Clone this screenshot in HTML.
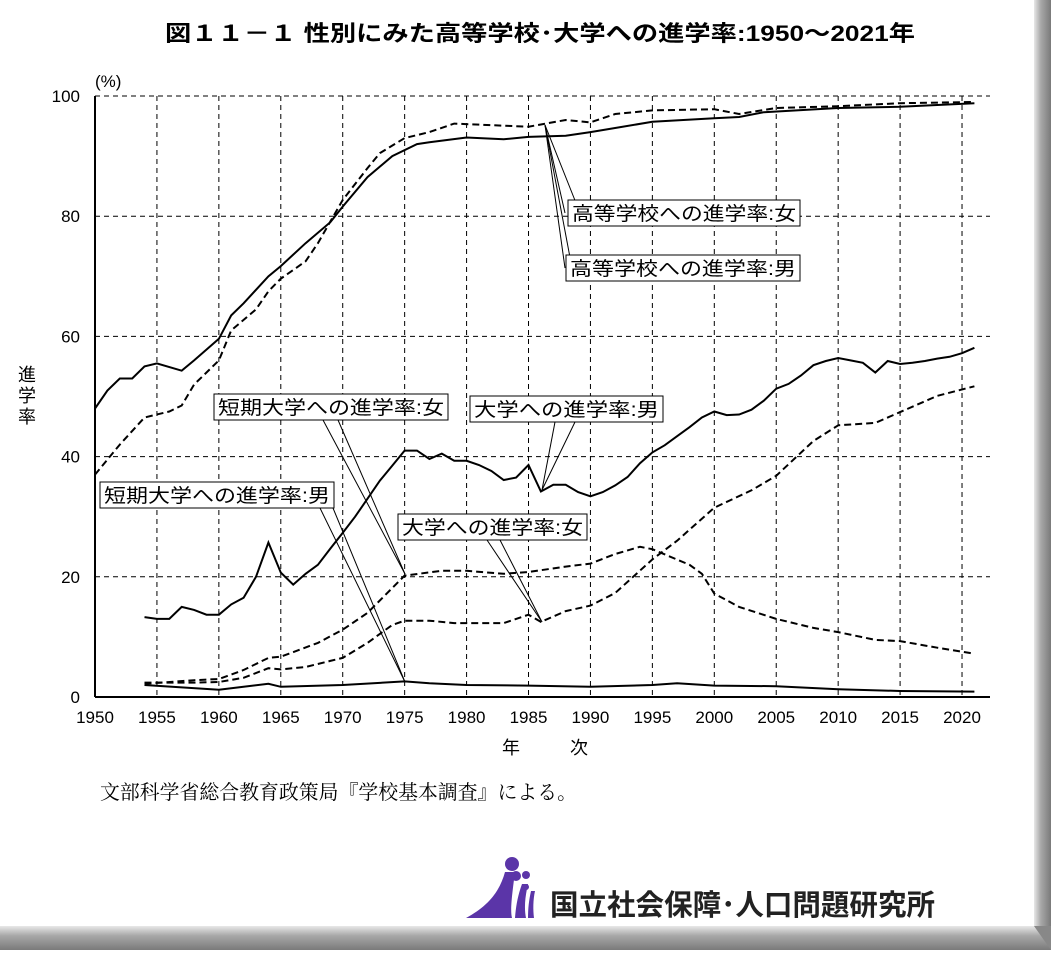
<!DOCTYPE html>
<html><head><meta charset="utf-8">
<style>
body{margin:0;width:1051px;height:950px;overflow:hidden;background:#fff;font-family:"Liberation Sans","Noto Sans CJK JP",sans-serif;}
</style></head><body>
<svg id="s" width="1051" height="950" xmlns="http://www.w3.org/2000/svg" font-family="Liberation Sans, Noto Sans CJK JP, sans-serif">
<defs>
<linearGradient id="gr" x1="0" x2="1" y1="0" y2="0"><stop offset="0" stop-color="#e8e8e8"/><stop offset="0.4" stop-color="#a8a8a8"/><stop offset="1" stop-color="#7a7a7a"/></linearGradient>
<linearGradient id="gb" x1="0" x2="0" y1="0" y2="1"><stop offset="0" stop-color="#e8e8e8"/><stop offset="0.4" stop-color="#a8a8a8"/><stop offset="1" stop-color="#7a7a7a"/></linearGradient>
</defs>
<rect x="1034" y="0" width="17" height="950" fill="url(#gr)"/>
<rect x="0" y="926" width="1051" height="24" fill="url(#gb)"/>
<polygon points="1034,926 1051,926 1051,950" fill="#888"/>
<text x="540" y="41" text-anchor="middle" font-size="22" font-weight="bold" textLength="750" lengthAdjust="spacingAndGlyphs">図１１－１ 性別にみた高等学校･大学への進学率:1950～2021年</text>
<text x="95" y="87" font-size="17">(%)</text>
<g id="grid" stroke="#000" stroke-dasharray="5,4" stroke-width="1" fill="none"></g>
<g id="ticks" font-size="17" text-anchor="end"></g>
<g id="series" fill="none" stroke="#000" stroke-width="2"></g>
<line x1="95" y1="96" x2="95" y2="697" stroke="#000" stroke-width="2"/>
<line x1="95" y1="697" x2="990" y2="697" stroke="#000" stroke-width="2"/>
<text x="27" y="381" font-size="18" text-anchor="middle">進</text>
<text x="27" y="402" font-size="18" text-anchor="middle">学</text>
<text x="27" y="423" font-size="18" text-anchor="middle">率</text>
<text x="502" y="754" font-size="18">年</text>
<text x="570" y="754" font-size="18">次</text>
<text x="100" y="799" font-size="20" font-family="Liberation Serif, Noto Serif CJK SC, serif" textLength="477" lengthAdjust="spacingAndGlyphs">文部科学省総合教育政策局『学校基本調査』による。</text>
<g id="call" font-size="19"></g>
<g fill="#5b35a8">
<circle cx="512" cy="864" r="7"/><circle cx="516" cy="876" r="5"/><circle cx="526" cy="875" r="4"/><circle cx="526" cy="887" r="3"/>
<path d="M466,918 C490,905 500,890 505,872 L515,872 C512,895 510,910 512,918 Z"/>
<path d="M515,918 C516,905 518,895 522,884 L528,884 C525,897 524,908 526,918 Z"/>
<path d="M528,918 C528,908 529,900 531,891 L535,891 C533,900 533,910 534,918 Z"/>
</g>
<text x="550" y="915" font-size="29" font-weight="bold" fill="#222" textLength="385" lengthAdjust="spacingAndGlyphs">国立社会保障･人口問題研究所</text>
</svg>
<script>
const NS="http://www.w3.org/2000/svg";
const X=y=>95+(y-1950)*12.386, Y=v=>697-v*6.01;
function el(p,t,a,txt){const e=document.createElementNS(NS,t);for(const k in a)e.setAttribute(k,a[k]);if(txt)e.textContent=txt;document.getElementById(p).appendChild(e);return e;}
for(let v=20;v<=100;v+=20)el('grid','line',{x1:95,x2:990,y1:Y(v),y2:Y(v)});
for(let y=1955;y<=2020;y+=5)el('grid','line',{x1:X(y),x2:X(y),y1:96,y2:697});
for(let v=0;v<=100;v+=20)el('ticks','text',{x:80,y:Y(v)+6},String(v));
for(let y=1950;y<=2020;y+=5)el('ticks','text',{x:X(y),y:723,'text-anchor':'middle'},String(y));
function ser(pts,dash){let d=pts.map((p,i)=>(i?'L':'M')+X(p[0]).toFixed(1)+','+Y(p[1]).toFixed(1)).join(' ');el('series','path',{d:d,'stroke-dasharray':dash?'7,4':'none'});}
ser([[1950,37],[1952,42],[1954,46.5],[1956,47.5],[1957,48.5],[1958,52],[1959,54],[1960,56],[1961,61],[1963,64.5],[1964,67.5],[1965,69.6],[1967,72.5],[1968,75.5],[1970,82.7],[1972,88],[1973,90.5],[1975,93],[1977,94],[1979,95.4],[1985,94.9],[1988,96],[1990,95.6],[1992,97],[1995,97.6],[2000,97.8],[2002,97],[2005,98],[2010,98.3],[2015,98.8],[2021,99]],true);
ser([[1950,48],[1951,51],[1952,53],[1953,53],[1954,55],[1955,55.5],[1957,54.3],[1958,56],[1960,59.6],[1961,63.5],[1962,65.5],[1964,70],[1965,71.7],[1967,75.5],[1969,79],[1970,81.6],[1972,86.5],[1974,90],[1976,92],[1977,92.3],[1980,93.1],[1983,92.8],[1985,93.2],[1988,93.4],[1990,94],[1995,95.7],[2000,96.3],[2002,96.5],[2004,97.3],[2010,98],[2015,98.2],[2021,98.8]],false);
ser([[1954,13.3],[1955,13],[1956,13],[1957,15],[1958,14.5],[1959,13.7],[1960,13.7],[1961,15.4],[1962,16.5],[1963,20],[1964,25.7],[1965,20.7],[1966,18.7],[1967,20.5],[1968,22],[1969,24.7],[1970,27.3],[1971,30],[1972,33],[1973,36],[1974,38.5],[1975,41],[1976,41],[1977,39.6],[1978,40.5],[1979,39.3],[1980,39.3],[1981,38.6],[1982,37.6],[1983,36.1],[1984,36.5],[1985,38.6],[1986,34.2],[1987,35.3],[1988,35.3],[1989,34.1],[1990,33.4],[1991,34.1],[1992,35.2],[1993,36.6],[1994,38.9],[1995,40.7],[1996,41.9],[1997,43.4],[1998,44.9],[1999,46.5],[2000,47.5],[2001,46.9],[2002,47],[2003,47.8],[2004,49.3],[2005,51.3],[2006,52.1],[2007,53.5],[2008,55.2],[2009,55.9],[2010,56.4],[2011,56],[2012,55.6],[2013,54],[2014,55.9],[2015,55.4],[2016,55.6],[2017,55.9],[2018,56.3],[2019,56.6],[2020,57.2],[2021,58.1]],false);
ser([[1954,2.4],[1958,2.4],[1960,2.5],[1962,3.2],[1964,4.8],[1965,4.6],[1967,5],[1969,6],[1970,6.5],[1972,9],[1974,12],[1975,12.7],[1977,12.7],[1979,12.3],[1983,12.3],[1985,13.7],[1986,12.5],[1988,14.3],[1990,15.2],[1992,17.3],[1995,22.9],[1997,26],[2000,31.5],[2003,34.4],[2005,36.8],[2008,42.6],[2010,45.2],[2013,45.6],[2015,47.4],[2018,50.1],[2021,51.7]],true);
ser([[1954,2.2],[1958,2.8],[1960,3.0],[1962,4.5],[1964,6.5],[1965,6.7],[1968,9],[1970,11.2],[1972,14],[1975,20.2],[1978,21],[1980,21],[1983,20.5],[1985,20.8],[1988,21.7],[1990,22.2],[1992,23.8],[1994,25],[1995,24.6],[1998,22],[1999,20.5],[2000,17.2],[2002,15],[2005,13],[2008,11.5],[2010,10.8],[2013,9.5],[2015,9.3],[2018,8.2],[2021,7.2]],true);
ser([[1954,2.0],[1957,1.6],[1960,1.2],[1962,1.7],[1964,2.2],[1965,1.7],[1970,2.0],[1975,2.6],[1977,2.3],[1980,2.0],[1985,1.9],[1990,1.7],[1995,2.0],[1997,2.3],[2000,1.9],[2005,1.8],[2010,1.3],[2015,1.0],[2021,0.9]],false);
function call(bx,by,w,txt,ax,ay,l1,l2,tx,ty){
 el('call','line',{x1:l1,y1:ty,x2:ax,y2:ay,stroke:'#000','stroke-width':1});
 el('call','line',{x1:l2,y1:ty,x2:ax,y2:ay,stroke:'#000','stroke-width':1});
 el('call','rect',{x:bx,y:by,width:w,height:26,fill:'#fff',stroke:'#000','stroke-width':1});
 el('call','text',{x:bx+4,y:by+20,textLength:w-8,lengthAdjust:'spacingAndGlyphs'},txt);}
call(568,200,232,'高等学校への進学率:女',545,125,565,580,0,213);
call(566,255,234,'高等学校への進学率:男',545,125,565,572,0,268);
call(470,396,193,'大学への進学率:男',542,490,555,575,0,422);
call(214,394,234,'短期大学への進学率:女',405,574,323,338,0,420);
call(100,482,234,'短期大学への進学率:男',405,682,320,333,0,508);
call(398,514,189,'大学への進学率:女',542,622,487,500,0,540);
</script>
</body></html>
